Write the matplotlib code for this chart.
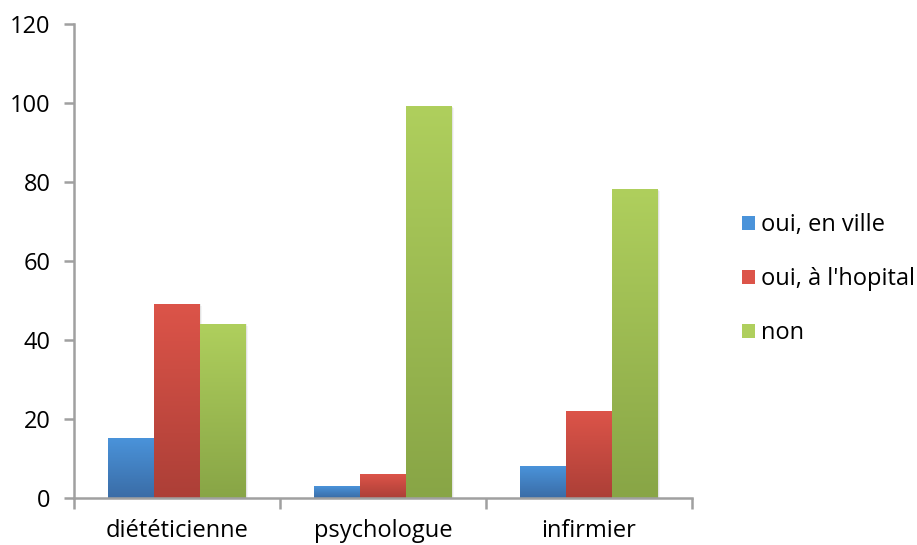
import numpy as np
import matplotlib.pyplot as plt
from matplotlib.colors import LinearSegmentedColormap
from matplotlib.patches import Rectangle

plt.rcParams['font.family'] = ['Open Sans', 'DejaVu Sans']

categories = ['diététicienne', 'psychologue', 'infirmier']
series = ["oui, en ville", "oui, à l'hopital", 'non']
ville = [15, 3, 8]
hopital = [49, 6, 22]
non = [44, 99, 78]

# top / bottom colours of each gradient fill
shades = [('#4a93da', '#3a6ca6'),
          ('#dc5449', '#ac3f37'),
          ('#afcf5d', '#88a546')]

fig = plt.figure(figsize=(9.17, 5.45), dpi=100)
ax = fig.add_axes([0.0807, 0.0862, 0.674, 0.870])

x = np.arange(len(categories))
width = 1 / 4.5
grad = np.linspace(0, 1, 256).reshape(-1, 1)

for i, (vals, name, (top, bottom)) in enumerate(zip([ville, hopital, non], series, shades)):
    bars = ax.bar(x + (i - 1) * width, vals, width, color='none', label=name)
    cmap = LinearSegmentedColormap.from_list(name, [top, bottom])
    for b in bars:
        x0, y0 = b.get_x(), b.get_y()
        w, h = b.get_width(), b.get_height()
        # soft drop shadow to the right
        for k, a in enumerate([0.07, 0.04]):
            ax.add_patch(Rectangle((x0 + 0.006 * (k + 1), y0), w, h - 0.4 * k,
                                   color='#000000', alpha=a, lw=0, zorder=1))
        ax.imshow(grad, extent=[x0, x0 + w, y0, y0 + h], cmap=cmap,
                  aspect='auto', origin='upper', zorder=2)

ax.set_xlim(-0.5, 2.5)
ax.set_ylim(0, 120)
ax.set_yticks(range(0, 121, 20))
ax.set_xticks(x)
ax.set_xticklabels(categories)
ax.set_xticks([-0.5, 0.5, 1.5, 2.5], minor=True)

axis_grey = '#a0a0a0'
for side in ['top', 'right']:
    ax.spines[side].set_visible(False)
for side in ['left', 'bottom']:
    ax.spines[side].set_color(axis_grey)
    ax.spines[side].set_linewidth(1.8)
ax.tick_params(axis='x', which='major', length=0, pad=15, labelsize=17)
ax.tick_params(axis='x', which='minor', length=8, width=1.8, color=axis_grey, direction='out')
ax.tick_params(axis='y', length=7, width=1.8, color=axis_grey, pad=10, labelsize=17)

handles = [Rectangle((0, 0), 1, 1, facecolor=top, edgecolor='none') for top, _ in shades]
leg = fig.legend(handles, series, loc='center left', bbox_to_anchor=(0.809, 0.488),
                 frameon=False, fontsize=17, handlelength=0.55, handleheight=0.55,
                 handletextpad=0.25, labelspacing=1.27, borderpad=0, borderaxespad=0)

fig.savefig('out.png', dpi=100)
